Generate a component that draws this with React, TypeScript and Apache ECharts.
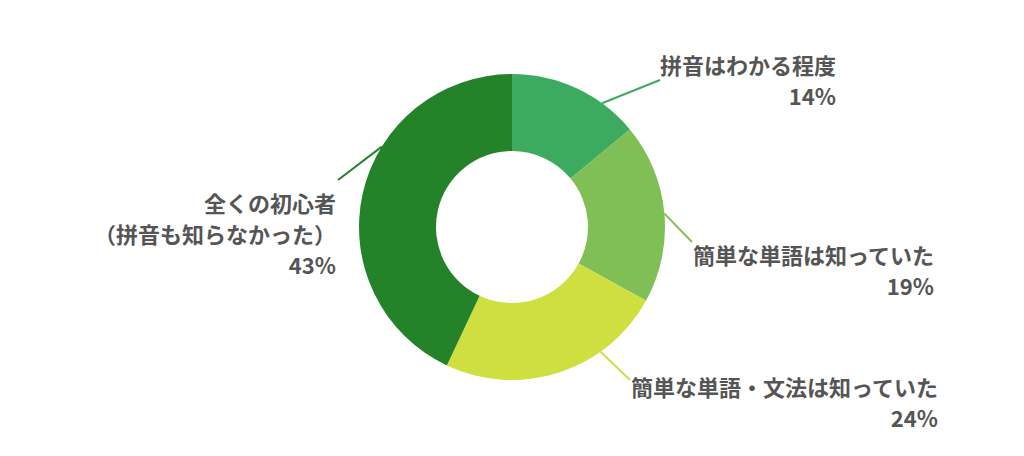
import { useEffect, useRef } from "react";
import * as echarts from "echarts";

const categories = [
  "拼音はわかる程度",
  "簡単な単語は知っていた",
  "簡単な単語・文法は知っていた",
  "全くの初心者\n（拼音も知らなかった）",
];
const shares = [14, 19, 24, 43];
const sliceColors = ["#3dab5f", "#80bf55", "#d0df40", "#248329"];

const CX = 512;
const CY = 227;
const R_IN = 76;
const R_OUT = 153;

// leader line: leaves the ring at `deg` (clockwise from 12 o'clock), ends at `end`;
// label block is right-aligned with its top-right corner at `at`
const leaders = [
  { deg: 36, end: [660, 80], at: [836, 48] },
  { deg: 85, end: [692, 242], at: [934, 238] },
  { deg: 144.6, end: [630, 380], at: [938, 370] },
  { deg: 301.7, end: [338, 180], at: [336, 186] },
];

export default function App() {
  const chartRef = useRef<HTMLDivElement>(null);

  useEffect(() => {
    if (!chartRef.current) return;
    const chart = echarts.init(chartRef.current, undefined, { renderer: "svg" });

    chart.setOption({
      animation: false,
      backgroundColor: "#ffffff",
      series: [
        {
          type: "pie",
          silent: true,
          center: [CX, CY],
          radius: [R_IN, R_OUT],
          startAngle: 90,
          clockwise: true,
          avoidLabelOverlap: false,
          data: categories.map((name, i) => ({
            name,
            value: shares[i],
            itemStyle: { color: sliceColors[i] },
          })),
          itemStyle: { borderWidth: 0 },
          label: {
            show: true,
            formatter: "{b}\n{c}%",
            color: "#555555",
            fontFamily: "Noto Sans CJK JP",
            fontWeight: "bold",
            fontSize: 22,
            lineHeight: 31,
            overflow: "none",
          },
          labelLine: { show: true, length: 20, length2: 0, lineStyle: { width: 2 } },
          labelLayout: (params: { dataIndex: number }) => {
            const l = leaders[params.dataIndex];
            const a = (l.deg * Math.PI) / 180;
            const sx = CX + R_OUT * Math.sin(a);
            const sy = CY - R_OUT * Math.cos(a);
            return {
              x: l.at[0],
              y: l.at[1],
              align: "right",
              verticalAlign: "top",
              labelLinePoints: [
                [sx, sy],
                [l.end[0], l.end[1]],
              ],
            };
          },
        },
      ],
    });

    return () => {
      chart.dispose();
    };
  }, []);

  return (
    <div
      ref={chartRef}
      style={{ position: "absolute", left: 0, top: 0, width: 1024, height: 456 }}
    />
  );
}
